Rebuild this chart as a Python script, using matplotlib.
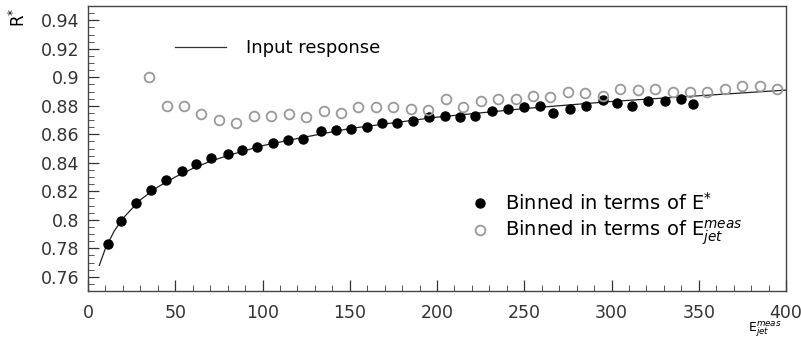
import numpy as np
import matplotlib.pyplot as plt
from matplotlib.lines import Line2D
from matplotlib.ticker import MultipleLocator

# binned in terms of E* (filled)
e_star_x = [11.6, 18.7, 27.5, 35.9, 44.7, 53.9, 61.9, 70.7, 80.0, 88.3,
            96.8, 105.8, 114.6, 123.4, 133.3, 142.1, 150.9, 160.1, 168.5, 177.3,
            186.1, 195.4, 204.6, 213.2, 221.9, 231.3, 240.5, 249.9, 259.0, 266.3,
            276.2, 285.4, 295.0, 303.3, 311.9, 321.1, 330.7, 339.7, 346.9]
e_star_r = [0.783, 0.799, 0.812, 0.821, 0.828, 0.834, 0.839, 0.843, 0.846, 0.849,
            0.851, 0.854, 0.856, 0.857, 0.862, 0.863, 0.864, 0.865, 0.868, 0.868,
            0.869, 0.872, 0.873, 0.872, 0.873, 0.876, 0.878, 0.879, 0.880, 0.875,
            0.878, 0.880, 0.884, 0.882, 0.880, 0.883, 0.883, 0.885, 0.881]

# binned in terms of E_jet^meas (open)
e_meas_x = [35, 45, 55, 65, 75, 85, 95, 105, 115, 125,
            135, 145, 155, 165, 175, 185, 195, 205, 215, 225,
            235, 245, 255, 265, 275, 285, 295, 305, 315, 325,
            335, 345, 355, 365, 375, 385, 395]
e_meas_r = [0.900, 0.880, 0.880, 0.874, 0.870, 0.868, 0.873, 0.873, 0.874, 0.872,
            0.876, 0.875, 0.879, 0.879, 0.879, 0.878, 0.877, 0.885, 0.879, 0.883,
            0.885, 0.885, 0.887, 0.886, 0.890, 0.889, 0.887, 0.892, 0.891, 0.892,
            0.890, 0.890, 0.890, 0.892, 0.894, 0.894, 0.892]

# input response curve
resp_x = [6.5, 10, 15, 20, 30, 40, 50, 60, 70, 80, 100, 120, 150, 175, 200, 250, 300, 350, 400]
resp_r = [0.768, 0.780, 0.792, 0.801, 0.814, 0.823, 0.830, 0.836, 0.841, 0.845,
          0.852, 0.857, 0.864, 0.868, 0.872, 0.878, 0.883, 0.887, 0.891]

plt.rcParams['font.family'] = 'DejaVu Sans'

fig = plt.figure(figsize=(8.01, 3.41), dpi=100)
ax = fig.add_axes([88/801, 1 - 291/341, 698/801, 285/341])

ax.plot(resp_x, resp_r, color='#222222', lw=0.9)
ax.plot(e_star_x, e_star_r, 'o', color='black', ms=6.5, mec='black')
ax.plot(e_meas_x, e_meas_r, 'o', mfc='none', mec='#999999', ms=7, mew=1.3)

ax.set_xlim(0, 400)
ax.set_ylim(0.75, 0.95)
ax.xaxis.set_major_locator(MultipleLocator(50))
ax.xaxis.set_minor_locator(MultipleLocator(10))
ax.yaxis.set_minor_locator(MultipleLocator(0.005))
ax.set_yticks([0.76, 0.78, 0.8, 0.82, 0.84, 0.86, 0.88, 0.9, 0.92, 0.94])
ax.set_yticklabels(['0.76', '0.78', '0.8', '0.82', '0.84', '0.86', '0.88', '0.9', '0.92', '0.94'])
ax.tick_params(which='major', direction='in', length=8, width=0.9, labelsize=12.5, colors='#333333')
ax.tick_params(which='minor', direction='in', length=4, width=0.7, colors='#555555')
ax.tick_params(axis='x', pad=9)
ax.tick_params(axis='y', pad=6)
for s in ax.spines.values():
    s.set_color('#444444')
    s.set_linewidth(1.0)

leg1 = ax.legend([Line2D([0], [0], color='#333333', lw=0.9)], ['Input response'],
                 loc='center left', bbox_to_anchor=(0.125, 0.853), frameon=False,
                 fontsize=13, handlelength=2.8, handletextpad=1.1,
                 borderpad=0, borderaxespad=0)
ax.add_artist(leg1)
h_fill = Line2D([0], [0], marker='o', ls='none', color='black', ms=6.5)
h_open = Line2D([0], [0], marker='o', ls='none', mfc='none', mec='#999999', ms=7, mew=1.3)
ax.legend([h_fill, h_open], ['Binned in terms of E$^{*}$', 'Binned in terms of E$_{jet}^{meas}$'],
          loc='center left', bbox_to_anchor=(0.534, 0.25), frameon=False,
          fontsize=14, handlelength=2.0, handletextpad=0.3, labelspacing=0.25,
          borderpad=0, borderaxespad=0)

fig.text(765/801, 1 - 329/341, r'E$_{jet}^{meas}$', fontsize=9, ha='center', va='center')
fig.text(19/801, 1 - 17/341, r'R$^{*}$', fontsize=12, rotation=90, ha='center', va='center')

fig.savefig('out.png', dpi=100)
